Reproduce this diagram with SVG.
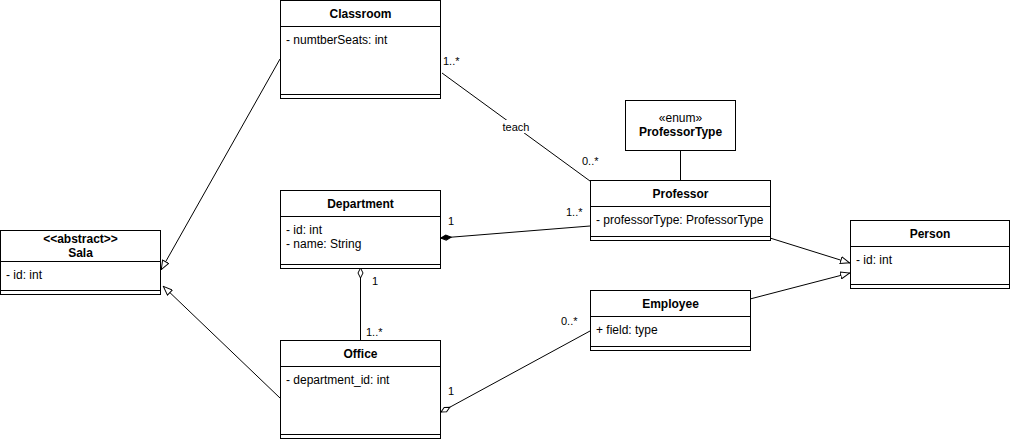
<svg xmlns="http://www.w3.org/2000/svg" width="1011" height="439" viewBox="0 0 1011 439">
<style>
.box{fill:#fff;stroke:#000;stroke-width:1}
.ln{fill:none;stroke:#000;stroke-width:1}
text{font-family:"Liberation Sans",Arial,Helvetica,sans-serif;font-size:12px;fill:#000}
.ttl{font-weight:bold;text-anchor:middle}
.mid{text-anchor:middle}
.lbl{font-size:11px}
.edge{fill:none;stroke:#000;stroke-width:1}
</style>
<defs>
<marker id="tri" viewBox="0 0 10 8" refX="10" refY="4" markerWidth="10" markerHeight="8" markerUnits="userSpaceOnUse" orient="auto">
<path d="M0.5,0.5 L9.5,4 L0.5,7.5 Z" fill="#fff" stroke="#000" stroke-width="1"/>
</marker>
<marker id="dfill" viewBox="-1 -1 12 8" refX="0" refY="3" markerWidth="12" markerHeight="8" markerUnits="userSpaceOnUse" orient="auto">
<path d="M0,3 L5,0.5 L10,3 L5,5.5 Z" fill="#000" stroke="#000" stroke-width="1"/>
</marker>
<marker id="dhollow" viewBox="-1 -1 12 8" refX="0" refY="3" markerWidth="12" markerHeight="8" markerUnits="userSpaceOnUse" orient="auto">
<path d="M0,3 L5,0.5 L10,3 L5,5.5 Z" fill="#fff" stroke="#000" stroke-width="1"/>
</marker>
</defs>

<g id="connectors">
<line class="edge" x1="280" y1="59" x2="161" y2="270" marker-end="url(#tri)"/>
<line class="edge" x1="280" y1="398" x2="163" y2="286" marker-end="url(#tri)"/>
<line class="edge" x1="442" y1="73" x2="590" y2="181"/>
<line class="edge" x1="441" y1="238" x2="590" y2="226" marker-start="url(#dfill)"/>
<line class="edge" x1="360.5" y1="268" x2="360.5" y2="340" marker-start="url(#dhollow)"/>
<line class="edge" x1="441" y1="412" x2="590" y2="331" marker-start="url(#dhollow)"/>
<line class="edge" x1="770" y1="238" x2="850" y2="263" marker-end="url(#tri)"/>
<line class="edge" x1="750" y1="299" x2="850" y2="273" marker-end="url(#tri)"/>
<line class="edge" x1="680.5" y1="150" x2="680.5" y2="180"/>
<rect x="501" y="120" width="31" height="13" fill="#fff"/>
<text class="lbl mid" x="516" y="131">teach</text>
<text class="lbl" x="443" y="65">1..*</text>
<text class="lbl" x="582" y="165">0..*</text>
<text class="lbl" x="448" y="225">1</text>
<text class="lbl" x="566" y="216">1..*</text>
<text class="lbl" x="372" y="285">1</text>
<text class="lbl" x="366" y="336">1..*</text>
<text class="lbl" x="561" y="325">0..*</text>
<text class="lbl" x="448" y="395">1</text>
</g>

<g id="classroom">
<rect class="box" x="280.5" y="0.5" width="160" height="98"/>
<line class="ln" x1="280.5" y1="26.5" x2="440.5" y2="26.5"/>
<line class="ln" x1="280.5" y1="94.5" x2="440.5" y2="94.5"/>
<text class="ttl" x="360.5" y="18">Classroom</text>
<text x="286" y="44">- numtberSeats: int</text>
</g>

<g id="sala">
<rect class="box" x="0.5" y="230.5" width="160" height="64"/>
<line class="ln" x1="0.5" y1="261.5" x2="160.5" y2="261.5"/>
<line class="ln" x1="0.5" y1="290.5" x2="160.5" y2="290.5"/>
<text class="ttl" x="80.5" y="243">&lt;&lt;abstract&gt;&gt;</text>
<text class="ttl" x="80.5" y="257">Sala</text>
<text x="6" y="279">- id: int</text>
</g>

<g id="department">
<rect class="box" x="280.5" y="190.5" width="160" height="78"/>
<line class="ln" x1="280.5" y1="216.5" x2="440.5" y2="216.5"/>
<line class="ln" x1="280.5" y1="264.5" x2="440.5" y2="264.5"/>
<text class="ttl" x="360.5" y="208">Department</text>
<text x="286" y="234">- id: int</text>
<text x="286" y="248">- name: String</text>
</g>

<g id="office">
<rect class="box" x="280.5" y="340.5" width="160" height="98"/>
<line class="ln" x1="280.5" y1="366.5" x2="440.5" y2="366.5"/>
<line class="ln" x1="280.5" y1="434.5" x2="440.5" y2="434.5"/>
<text class="ttl" x="360.5" y="358">Office</text>
<text x="286" y="384">- department_id: int</text>
</g>

<g id="professortype">
<rect class="box" x="625.5" y="100.5" width="110" height="50"/>
<text class="mid" x="680.5" y="122">«enum»</text>
<text class="ttl" x="680.5" y="136">ProfessorType</text>
</g>

<g id="professor">
<rect class="box" x="590.5" y="180.5" width="180" height="60"/>
<line class="ln" x1="590.5" y1="206.5" x2="770.5" y2="206.5"/>
<line class="ln" x1="590.5" y1="236.5" x2="770.5" y2="236.5"/>
<text class="ttl" x="680.5" y="198">Professor</text>
<text x="596" y="224">- professorType: ProfessorType</text>
</g>

<g id="employee">
<rect class="box" x="590.5" y="290.5" width="160" height="60"/>
<line class="ln" x1="590.5" y1="316.5" x2="750.5" y2="316.5"/>
<line class="ln" x1="590.5" y1="346.5" x2="750.5" y2="346.5"/>
<text class="ttl" x="670.5" y="308">Employee</text>
<text x="596" y="334">+ field: type</text>
</g>

<g id="person">
<rect class="box" x="850.5" y="220.5" width="159" height="68"/>
<line class="ln" x1="850.5" y1="246.5" x2="1009.5" y2="246.5"/>
<line class="ln" x1="850.5" y1="284.5" x2="1009.5" y2="284.5"/>
<text class="ttl" x="930" y="238">Person</text>
<text x="856" y="264">- id: int</text>
</g>
</svg>
